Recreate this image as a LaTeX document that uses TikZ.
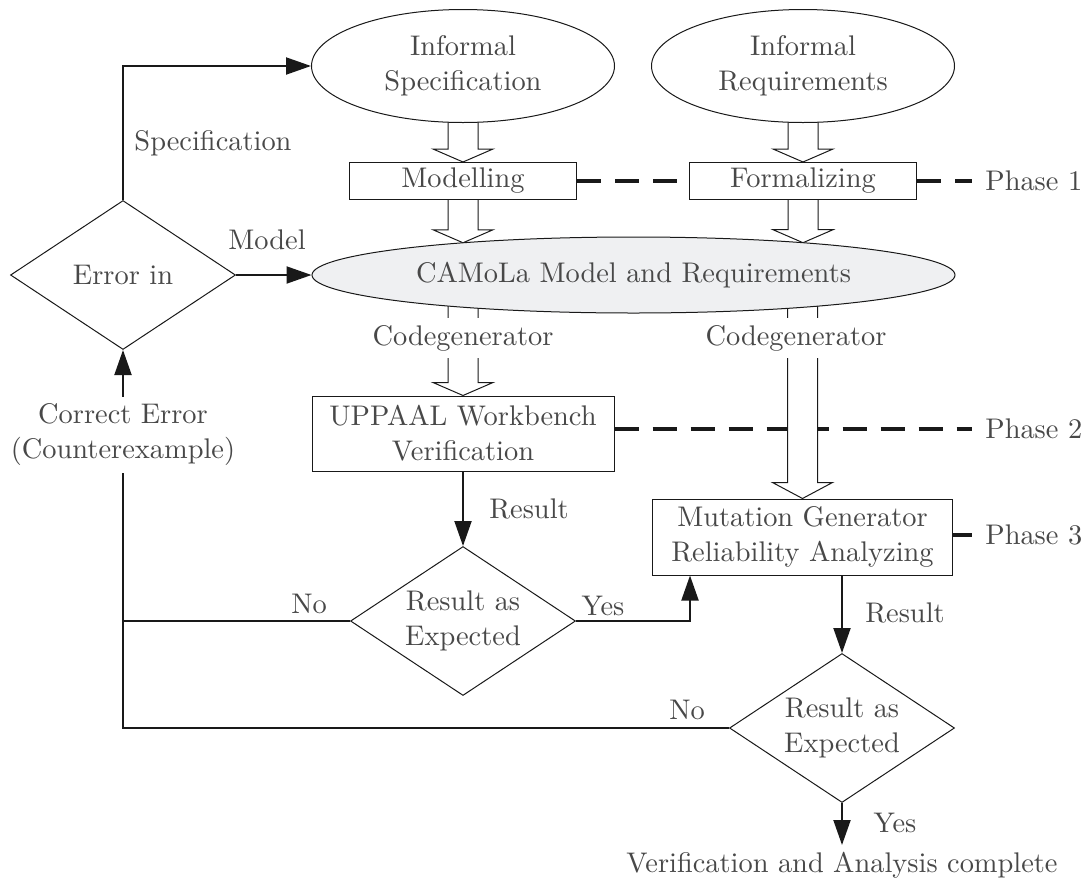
\documentclass[tikz,border=0pt]{standalone}
\usepackage{fontspec}
\setmainfont{lmroman10-regular.otf}
\usetikzlibrary{shapes.geometric,arrows.meta,calc,intersections,backgrounds}
\definecolor{txt}{RGB}{72,72,72}
\definecolor{camola}{RGB}{239,240,242}
\definecolor{ink}{RGB}{25,25,25}

% wide hollow arrow pointing down: [head length]{start inside source}{tip}
\newcommand\hollowarrow[3][6.5pt]{%
  \filldraw[fill=white,draw=ink,line width=0.5pt,line join=miter]
    let \p1=(#2), \p2=(#3) in
    (\x1-7.5pt,\y1) -- (\x1-7.5pt,\y2+#1) -- (\x1-15pt,\y2+#1) -- (\x1,\y2)
    -- (\x1+15pt,\y2+#1) -- (\x1+7.5pt,\y2+#1) -- (\x1+7.5pt,\y1) -- cycle;}

\tikzset{
  base/.style={font=\fontsize{14.2pt}{17.5pt}\selectfont, text=txt, align=center},
  ell/.style={base, ellipse, draw=ink, fill=white, line width=0.5pt,
    minimum width=151.5pt, minimum height=56.5pt, inner sep=0pt},
  proc/.style={base, rectangle, draw=ink, fill=white, line width=0.5pt, inner sep=0pt},
  dec/.style={base, diamond, draw=ink, fill=white, line width=0.5pt, inner sep=0pt,
    aspect=1.5, minimum width=112.5pt, minimum height=74.5pt},
  lbl/.style={base, inner sep=0pt},
  cut/.style={base, fill=white, inner xsep=1pt, inner ysep=3.7pt},
  flow/.style={draw=ink, line width=1pt, -{Triangle[length=12.5pt,width=8.5pt]}},
  link/.style={draw=ink, line width=1pt},
  phase/.style={draw=ink, line width=1.6pt, dash pattern=on 12pt off 7pt},
}

\begin{document}
\begin{tikzpicture}[x=0.5pt,y=-0.5pt]
\useasboundingbox (0,0) rectangle (1086,884);

% main blocks
\node[ell] (is) at (463,66) {Informal\\Specification};
\node[ell] (ir) at (803,66) {Informal\\Requirements};
\node[proc, minimum width=113.5pt, minimum height=18.5pt] (mod) at (463,181) {Modelling};
\node[proc, minimum width=113.5pt, minimum height=18.5pt] (form) at (803,181) {Formalizing};
\node[ell, fill=camola, name path=modelpath, minimum width=321.5pt, minimum height=38pt]
  (model) at (633.5,275) {CAMoLa Model and Requirements};
\node[dec] (err) at (123,275) {Error in};
\node[proc, minimum width=151pt, minimum height=37.5pt] (uppaal) at (463,433.5)
  {UPPAAL Workbench\\Verification};
\node[proc, minimum width=150pt, minimum height=38pt] (mut) at (802.5,537)
  {Mutation Generator\\Reliability Analyzing};
\node[dec] (res1) at (463,621) {Result as\\Expected};
\node[dec] (res2) at (842,728) {Result as\\Expected};
\node[lbl, anchor=north, inner ysep=3.5pt] (done) at (842,845)
  {Verification and Analysis complete};

% phase markers
\node[lbl, anchor=west, inner xsep=6.5pt] (p1) at (972,181) {Phase 1};
\node[lbl, anchor=west, inner xsep=6.5pt] (p2) at (972,429) {Phase 2};
\node[lbl, anchor=west, inner xsep=6.5pt] (p3) at (972,535) {Phase 3};

% where the wide arrows meet the model ellipse
\path[name path=vmod] (mod.south) -- (mod.south |- model.south);
\path[name intersections={of=vmod and modelpath, by=tipmod}];
\path[name path=vform] (form.south) -- (form.south |- model.south);
\path[name intersections={of=vform and modelpath, by=tipform}];

\begin{pgfonlayer}{background}
  \draw[phase] (mod.east) -- (form.west);
  \draw[phase] (form.east) -- (p1.west);
  \draw[phase] (uppaal.east |- p2.west) -- (p2.west);
  \draw[phase] (mut.east |- p3.west) -- (p3.west);
  \hollowarrow{is.center}{mod.north}
  \hollowarrow{ir.center}{form.north}
  \hollowarrow{mod.center}{tipmod}
  \hollowarrow{form.center}{tipform}
  \hollowarrow{uppaal.north |- model.center}{uppaal.north}
  \hollowarrow[8pt]{mut.north |- model.center}{mut.north}
\end{pgfonlayer}

% connectors
\draw[flow] (err.north) |- (is.west);
\draw[flow] (err.east) -- (model.west);
\draw[flow] (uppaal.south) -- (res1.north);
\draw[flow] (res1.east) -| ([xshift=19pt]mut.south west);
\draw[flow] (mut.south -| res2.north) -- (res2.north);
\draw[flow] (res2.south) -- (done.north);
\draw[flow] (res2.west) -| (err.south);
\draw[link] (res1.west) -- (res1.west -| err.south);

% labels
\node[lbl] (lspec) at (213,143) {Specification};
\node[lbl] (lmodel) at (267,240) {Model};
\node[cut] (lcg1) at (463,338) {Codegenerator};
\node[cut] (lcg2) at (796,338) {Codegenerator};
\node[cut] (lcorr) at (123,435) {Correct Error\\(Counterexample)};
\node[lbl] (lres1) at (529,509) {Result};
\node[lbl] (lres2) at (905,613) {Result};
\node[lbl] (lno1) at (309,604) {No};
\node[lbl] (lyes1) at (603,606) {Yes};
\node[lbl] (lno2) at (687,710) {No};
\node[lbl] (lyes2) at (895,823) {Yes};
\end{tikzpicture}
\end{document}
